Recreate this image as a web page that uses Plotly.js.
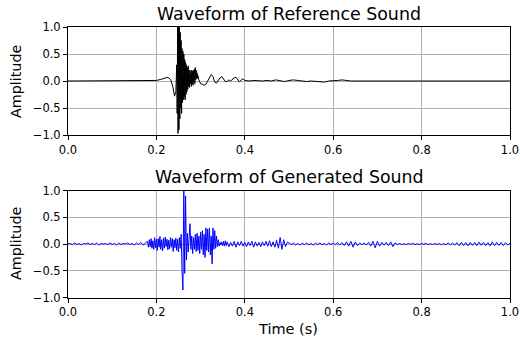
<!DOCTYPE html>
<html>
<head>
<meta charset="utf-8">
<script src="https://cdn.plot.ly/plotly-3.0.1.min.js"></script>
<style>html,body{margin:0;padding:0;background:#fff;}#chart{width:520px;height:341px;}</style>
</head>
<body>
<div id="chart"></div>
<script>
// ---- Data ----
const titles = ["Waveform of Reference Sound", "Waveform of Generated Sound"];
const xTickVals = [0, 0.2, 0.4, 0.6, 0.8, 1.0];
const yTickVals = [-1, -0.5, 0, 0.5, 1];

const refTime = [
  0, 0.05, 0.1, 0.15, 0.19, 0.2, 0.21, 0.22, 0.226, 0.232, 0.237, 0.241, 0.244,
  0.246, 0.247, 0.248, 0.249, 0.250, 0.251, 0.252, 0.253, 0.254, 0.255, 0.256, 0.257,
  0.258, 0.259, 0.260, 0.261, 0.262, 0.263, 0.264, 0.265, 0.266, 0.267, 0.268, 0.269,
  0.270, 0.271, 0.272, 0.273, 0.274, 0.275, 0.276, 0.277, 0.278, 0.279, 0.280, 0.281,
  0.282, 0.283, 0.284, 0.285, 0.286, 0.287, 0.288, 0.289, 0.290, 0.291, 0.292, 0.293,
  0.294, 0.296, 0.298, 0.300, 0.304, 0.308, 0.312, 0.316, 0.320, 0.324, 0.328, 0.332,
  0.336, 0.340, 0.344, 0.348, 0.352, 0.356, 0.360, 0.364, 0.368, 0.372, 0.376, 0.380,
  0.384, 0.388, 0.392, 0.396, 0.400, 0.41, 0.42, 0.43, 0.44, 0.45, 0.46, 0.47, 0.48,
  0.49, 0.50, 0.51, 0.52, 0.53, 0.54, 0.55, 0.56, 0.57, 0.58, 0.59, 0.60, 0.61, 0.62,
  0.63, 0.64, 0.66, 0.68, 0.70, 0.75, 0.80, 0.85, 0.90, 0.95, 1.0
];
const refAmp = [
  0, 0.002, -0.002, 0.002, 0.0, 0.01, 0.03, 0.06, 0.07, 0.03, -0.1, -0.28, -0.2,
  0.3, -0.6, 1.0, -0.97, 1.0, -0.9, 1.0, -0.7, 0.9, -0.5, 0.75, -0.6,
  0.6, -0.4, 0.55, -0.35, 0.5, -0.3, 0.4, -0.35, 0.35, -0.25, 0.3, -0.2,
  0.25, -0.15, 0.28, -0.1, 0.2, -0.12, 0.2, -0.05, 0.15, -0.1, 0.2, -0.05,
  0.18, -0.08, 0.2, 0.0, 0.22, -0.05, 0.25, 0.02, 0.2, 0.05, 0.15, 0.05,
  0.1, 0.02, -0.02, -0.05, -0.06, -0.08, -0.06, 0.0, 0.08, 0.12, 0.08, -0.02,
  -0.04, 0.02, 0.06, 0.08, 0.04, -0.01, -0.01, 0.02, 0.0, 0.03, 0.06, 0.07,
  0.02, -0.02, 0.02, 0.04, 0.01, 0.0, 0.01, 0.0, 0.0, 0.01, 0.0, 0.02, 0.0,
  -0.01, 0.01, 0.02, 0.01, 0.0, -0.01, 0.0, -0.01, -0.02, -0.02, 0.0, 0.0, 0.01, 0.02,
  0.01, 0.0, 0.0, 0.0, 0.0, 0.0, 0.0, 0.0, 0.0, 0.0, 0.0
];

const genTime = [
  0.000, 0.005, 0.010, 0.015, 0.020, 0.025, 0.030, 0.035, 0.040, 0.045, 0.050, 0.055,
  0.060, 0.065, 0.070, 0.075, 0.080, 0.085, 0.090, 0.095, 0.100, 0.105, 0.110, 0.115,
  0.120, 0.125, 0.130, 0.135, 0.140, 0.145, 0.150, 0.155, 0.160, 0.165, 0.170, 0.175,
  0.180, 0.182, 0.184, 0.186, 0.188, 0.190, 0.192, 0.194, 0.196, 0.198, 0.200, 0.202,
  0.204, 0.206, 0.208, 0.210, 0.212, 0.214, 0.216, 0.218, 0.220, 0.222, 0.224, 0.226,
  0.228, 0.230, 0.232, 0.234, 0.236, 0.238, 0.240, 0.242, 0.244, 0.246, 0.248, 0.250,
  0.252, 0.254, 0.256, 0.258, 0.260, 0.262, 0.264, 0.266, 0.268, 0.270, 0.272, 0.274,
  0.276, 0.278, 0.280, 0.282, 0.284, 0.286, 0.288, 0.290, 0.292, 0.294, 0.296, 0.298,
  0.300, 0.302, 0.304, 0.306, 0.308, 0.310, 0.312, 0.314, 0.316, 0.318, 0.320, 0.322,
  0.324, 0.326, 0.328, 0.330, 0.332, 0.334, 0.336, 0.338, 0.340, 0.342, 0.344, 0.346,
  0.348, 0.350, 0.352, 0.354, 0.356, 0.358,
  0.360, 0.364, 0.368, 0.372, 0.376, 0.380, 0.384, 0.388, 0.392, 0.396, 0.400, 0.404,
  0.408, 0.412, 0.416, 0.420, 0.424, 0.428, 0.432, 0.436, 0.440, 0.444, 0.448, 0.452,
  0.456, 0.460, 0.464, 0.468, 0.472, 0.476, 0.480, 0.484, 0.488, 0.492, 0.496,
  0.500, 0.505, 0.510, 0.515, 0.520, 0.525, 0.530, 0.535, 0.540, 0.545, 0.550, 0.555,
  0.560, 0.565, 0.570, 0.575, 0.580, 0.585, 0.590, 0.595, 0.600, 0.605, 0.610, 0.615,
  0.620, 0.625, 0.630, 0.635, 0.640, 0.645, 0.650, 0.655, 0.660, 0.665, 0.670, 0.675,
  0.680, 0.685, 0.690, 0.695, 0.700, 0.705, 0.710, 0.715, 0.720, 0.725, 0.730, 0.735,
  0.740, 0.745, 0.750, 0.755, 0.760, 0.765, 0.770, 0.775, 0.780, 0.785, 0.790, 0.795,
  0.800, 0.805, 0.810, 0.815, 0.820, 0.825, 0.830, 0.835, 0.840, 0.845, 0.850, 0.855,
  0.860, 0.865, 0.870, 0.875, 0.880, 0.885, 0.890, 0.895, 0.900, 0.905, 0.910, 0.915,
  0.920, 0.925, 0.930, 0.935, 0.940, 0.945, 0.950, 0.955, 0.960, 0.965, 0.970, 0.975,
  0.980, 0.985, 0.990, 0.995, 1.000
];
const genAmp = [
  0.00, 0.01, -0.01, 0.02, -0.01, 0.01, -0.02, 0.01, 0.00, 0.02, -0.01, 0.01,
  -0.01, 0.02, -0.02, 0.01, 0.00, 0.01, -0.01, 0.02, -0.01, 0.01, -0.02, 0.02,
  -0.01, 0.01, 0.00, 0.02, -0.01, 0.01, -0.02, 0.02, -0.01, 0.03, -0.02, 0.02,
  0.05, -0.06, 0.08, -0.05, 0.10, -0.08, 0.06, -0.10, 0.12, -0.07, 0.09, -0.12,
  0.10, -0.06, 0.14, -0.10, 0.08, -0.13, 0.11, -0.08, 0.13, -0.05, 0.09, -0.11,
  0.07, -0.09, 0.12, -0.06, 0.10, -0.14, 0.08, -0.07, 0.11, -0.12, 0.09, -0.15,
  0.12, -0.08, 0.18, -0.50, -0.86, 1.00, -0.55, 0.90, -0.30, 0.20, -0.15, 0.12,
  0.38, -0.10, 0.15, -0.18, 0.12, -0.10, 0.18, -0.14, 0.20, -0.12, 0.15, -0.18,
  0.22, -0.10, 0.25, -0.20, 0.18, -0.25, 0.30, -0.12, 0.28, -0.15, 0.30, -0.20,
  0.15, -0.37, 0.30, -0.10, 0.25, -0.08, 0.15, -0.05, 0.08, -0.04, 0.03, -0.02,
  0.04, -0.03, 0.05, -0.04, 0.06, -0.03,
  0.04, -0.05, 0.03, -0.04, 0.05, -0.06, 0.04, -0.03, 0.05, -0.04, 0.03, -0.05,
  0.04, -0.03, 0.05, -0.06, 0.04, -0.04, 0.03, -0.05, 0.04, -0.03, 0.05, -0.04,
  0.06, -0.05, 0.04, -0.06, 0.07, -0.08, 0.12, -0.10, 0.08, -0.05, 0.03,
  0.02, -0.01, 0.015, -0.015, 0.01, -0.02, 0.015, -0.01, 0.02, -0.015, 0.01, -0.02,
  0.015, -0.01, 0.02, -0.015, 0.01, -0.02, 0.02, -0.01, 0.02, -0.015, 0.03, -0.02,
  0.025, -0.03, 0.04, -0.04, 0.05, -0.06, 0.04, -0.03, 0.02, -0.015, 0.02, -0.02,
  0.03, -0.04, 0.05, -0.07, 0.05, -0.04, 0.03, -0.02, 0.03, -0.03, 0.04, -0.05,
  0.02, -0.01, 0.01, -0.01, 0.005, -0.01, 0.01, -0.005, 0.01, -0.01, 0.005, -0.01,
  0.01, -0.005, 0.01, -0.01, 0.005, -0.01, 0.01, -0.01, 0.01, -0.015, 0.01, -0.015,
  0.02, -0.015, 0.02, -0.02, 0.025, -0.03, 0.03, -0.03, 0.025, -0.035, 0.03, -0.025,
  0.03, -0.03, 0.035, -0.025, 0.03, -0.03, 0.025, -0.035, 0.04, -0.03, 0.03, -0.025,
  0.03, -0.03, 0.025, -0.02, 0.02
];

// ---- Chart ----
const font = "DejaVu Sans, sans-serif";
const traces = [
  {x: refTime, y: refAmp, type: "scatter", mode: "lines",
   line: {color: "#000000", width: 1}, xaxis: "x", yaxis: "y", hoverinfo: "skip"},
  {x: genTime, y: genAmp, type: "scatter", mode: "lines",
   line: {color: "#0000ff", width: 1}, xaxis: "x2", yaxis: "y2", hoverinfo: "skip"}
];

function xAxis(domain, anchor) {
  return {domain: domain, anchor: anchor, range: [0, 1], tickvals: xTickVals, tickformat: ".1f",
    showgrid: true, gridcolor: "#b0b0b0", gridwidth: 1, zeroline: false,
    showline: true, linecolor: "#000", linewidth: 1, mirror: true,
    ticks: "outside", ticklen: 4, tickcolor: "#000", tickwidth: 1,
    tickfont: {family: font, size: 11.5, color: "#000"}, fixedrange: true};
}
function yAxis(domain, anchor) {
  return {domain: domain, anchor: anchor, range: [-1, 1], tickvals: yTickVals, tickformat: ".1f",
    showgrid: true, gridcolor: "#b0b0b0", gridwidth: 1, zeroline: false,
    showline: true, linecolor: "#000", linewidth: 1, mirror: true,
    ticks: "outside", ticklen: 4, tickcolor: "#000", tickwidth: 1,
    tickfont: {family: font, size: 11.5, color: "#000"}, fixedrange: true};
}

const W = 520, H = 341;
const layout = {
  width: W, height: H,
  margin: {l: 0, r: 0, t: 0, b: 0},
  paper_bgcolor: "#fff", plot_bgcolor: "#fff",
  showlegend: false,
  xaxis: xAxis([68 / W, 510 / W], "y"),
  yaxis: yAxis([1 - 135 / H, 1 - 27 / H], "x"),
  xaxis2: xAxis([68 / W, 510 / W], "y2"),
  yaxis2: yAxis([1 - 297.5 / H, 1 - 190.5 / H], "x2"),
  annotations: [
    {text: titles[0], xref: "paper", yref: "paper", x: 289 / W, y: 1 - 14 / H,
     xanchor: "center", yanchor: "middle", showarrow: false, font: {family: font, size: 17.4, color: "#000"}},
    {text: titles[1], xref: "paper", yref: "paper", x: 289 / W, y: 1 - 177 / H,
     xanchor: "center", yanchor: "middle", showarrow: false, font: {family: font, size: 17.4, color: "#000"}},
    {text: "Amplitude", xref: "paper", yref: "paper", x: 16 / W, y: 1 - 82 / H, textangle: -90,
     xanchor: "center", yanchor: "middle", showarrow: false, font: {family: font, size: 14.3, color: "#000"}},
    {text: "Amplitude", xref: "paper", yref: "paper", x: 16 / W, y: 1 - 244 / H, textangle: -90,
     xanchor: "center", yanchor: "middle", showarrow: false, font: {family: font, size: 14.3, color: "#000"}},
    {text: "Time (s)", xref: "paper", yref: "paper", x: 288 / W, y: 1 - 329 / H,
     xanchor: "center", yanchor: "middle", showarrow: false, font: {family: font, size: 14.5, color: "#000"}}
  ]
};

Plotly.newPlot("chart", traces, layout, {staticPlot: true, displayModeBar: false});
</script>
</body>
</html>
